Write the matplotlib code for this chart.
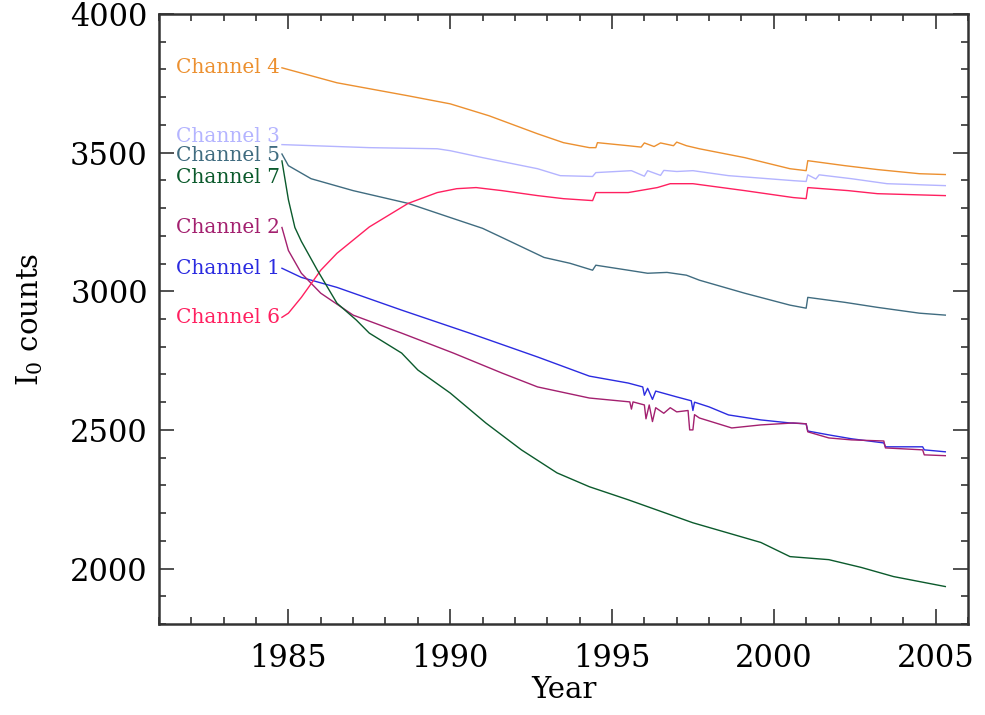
import matplotlib
matplotlib.use("Agg")
import matplotlib.pyplot as plt
from matplotlib.ticker import MultipleLocator

plt.rcParams['font.family'] = 'DejaVu Serif'
plt.rcParams['mathtext.fontset'] = 'dejavuserif'

# I0 counts per channel (year, counts)
yr1 = [1984.8, 1985.4, 1986.5, 1988.5, 1990.6, 1992.7, 1994.3, 1995.5, 1995.95, 1996.0,
       1996.1, 1996.25, 1996.35, 1997.0, 1997.45, 1997.5, 1997.55, 1998.0, 1998.6, 1999.6,
       2000.5, 2001.0, 2001.05, 2001.7, 2002.4, 2003.4, 2003.45, 2004.6, 2004.65, 2005.3]
ch1 = [3083, 3050, 3014, 2932, 2849, 2763, 2694, 2669, 2655, 2625,
       2650, 2610, 2640, 2619, 2605, 2570, 2600, 2583, 2554, 2536,
       2525, 2522, 2496, 2482, 2468, 2453, 2439, 2439, 2428, 2421]

yr2 = [1984.8, 1985.0, 1985.4, 1986.0, 1987.0, 1988.5, 1990.1, 1991.6, 1992.7, 1994.3,
       1995.55, 1995.6, 1995.65, 1996.0, 1996.05, 1996.15, 1996.25, 1996.35, 1996.6, 1996.8,
       1997.0, 1997.35, 1997.4, 1997.5, 1997.55, 1997.7, 1998.7, 1999.6, 2000.6, 2001.0,
       2001.05, 2001.7, 2002.4, 2003.4, 2003.45, 2004.6, 2004.65, 2005.3]
ch2 = [3230, 3147, 3065, 2993, 2914, 2849, 2777, 2705, 2655, 2615,
       2601, 2575, 2601, 2590, 2540, 2590, 2530, 2580, 2560, 2580,
       2565, 2570, 2500, 2500, 2555, 2543, 2507, 2518, 2525, 2522,
       2493, 2471, 2464, 2460, 2435, 2428, 2410, 2407]

yr3 = [1984.8, 1987.5, 1989.6, 1990.0, 1991.0, 1992.7, 1993.4, 1994.4, 1994.5, 1995.6,
       1996.0, 1996.1, 1996.5, 1996.6, 1997.0, 1997.5, 1998.6, 2000.6, 2001.0, 2001.05,
       2001.3, 2001.4, 2002.4, 2003.5, 2005.3]
ch3 = [3529, 3518, 3514, 3507, 3482, 3442, 3417, 3414, 3428, 3435,
       3415, 3435, 3418, 3436, 3432, 3435, 3417, 3399, 3396, 3420,
       3405, 3420, 3406, 3388, 3381]

yr4 = [1984.8, 1986.5, 1988.7, 1990.0, 1991.2, 1992.7, 1993.5, 1994.3, 1994.5, 1994.55,
       1995.5, 1995.9, 1996.0, 1996.3, 1996.5, 1996.9, 1997.0, 1997.3, 1997.7, 1999.1,
       2000.5, 2001.0, 2001.05, 2002.2, 2003.2, 2004.5, 2005.3]
ch4 = [3806, 3752, 3705, 3676, 3633, 3568, 3536, 3518, 3518, 3536,
       3525, 3520, 3535, 3522, 3535, 3525, 3538, 3525, 3514, 3482,
       3442, 3435, 3471, 3453, 3439, 3424, 3421]

yr5 = [1984.8, 1985.0, 1985.7, 1987.0, 1988.7, 1990.0, 1991.0, 1991.6, 1992.9, 1993.7,
       1994.4, 1994.5, 1995.5, 1996.1, 1996.7, 1997.3, 1997.7, 1999.1, 2000.5, 2001.0,
       2001.05, 2002.2, 2003.2, 2004.5, 2005.3]
ch5 = [3495, 3453, 3406, 3363, 3317, 3266, 3227, 3194, 3122, 3101,
       3076, 3094, 3076, 3065, 3068, 3058, 3040, 2993, 2950, 2939,
       2978, 2960, 2942, 2921, 2914]

yr6 = [1984.8, 1985.0, 1985.4, 1986.0, 1986.5, 1987.5, 1988.7, 1989.6, 1990.2, 1990.8,
       1991.6, 1992.7, 1993.5, 1994.4, 1994.5, 1995.5, 1996.4, 1996.8, 1997.5, 1999.1,
       2000.6, 2001.0, 2001.05, 2002.3, 2003.2, 2005.3]
ch6 = [2906, 2921, 2978, 3076, 3137, 3232, 3317, 3356, 3370, 3374,
       3363, 3345, 3334, 3327, 3356, 3356, 3374, 3388, 3388, 3363,
       3338, 3334, 3374, 3363, 3352, 3345]

yr7 = [1984.8, 1984.9, 1985.0, 1985.2, 1985.4, 1985.9, 1986.5, 1987.1, 1987.5, 1988.5,
       1989.0, 1990.0, 1991.1, 1992.2, 1993.3, 1994.3, 1995.5, 1997.5, 1999.6, 2000.5,
       2001.7, 2002.7, 2003.7, 2005.3]
ch7 = [3470, 3400, 3330, 3230, 3180, 3075, 2957, 2896, 2849, 2777,
       2716, 2633, 2525, 2428, 2345, 2295, 2248, 2165, 2094, 2043,
       2032, 2004, 1971, 1935]

names = ['Channel 1', 'Channel 2', 'Channel 3', 'Channel 4',
         'Channel 5', 'Channel 6', 'Channel 7']
colors = ['#2b2be0', '#a3206f', '#b4b4ff', '#ec9030',
          '#406c80', '#ff2060', '#0b5a2c']
# vertical position of each channel's label
label_y = [3083, 3230, 3558, 3806, 3490, 2906, 3410]

years = [yr1, yr2, yr3, yr4, yr5, yr6, yr7]
counts = [ch1, ch2, ch3, ch4, ch5, ch6, ch7]

fig = plt.figure(figsize=(9.85, 7.15), dpi=100)
ax = fig.add_axes([0.1614, 0.1273, 0.8213, 0.8531])

for x, y, c, name, ly in zip(years, counts, colors, names, label_y):
    ax.plot(x, y, color=c, lw=1.0)
    ax.text(x[0] - 0.05, ly, name, color=c, fontsize=14.5,
            ha='right', va='center')

ax.set_xlim(1981, 2006)
ax.set_ylim(1800, 4000)
ax.xaxis.set_major_locator(MultipleLocator(5))
ax.xaxis.set_minor_locator(MultipleLocator(1))
ax.yaxis.set_major_locator(MultipleLocator(500))
ax.yaxis.set_minor_locator(MultipleLocator(100))
ax.tick_params(which='both', direction='in', top=True, right=True,
               color='#333333', width=1.2)
ax.tick_params(which='major', length=11, labelsize=22)
ax.tick_params(axis='x', which='major', pad=14)
ax.tick_params(axis='y', which='major', pad=8)
ax.tick_params(which='minor', length=5)
for s in ax.spines.values():
    s.set_linewidth(1.8)
    s.set_color('#333333')

ax.set_xlabel('Year', fontsize=21, labelpad=1)
ax.set_ylabel(r'I$_0$ counts', fontsize=21, labelpad=18)

fig.savefig('out.png', dpi=100)
